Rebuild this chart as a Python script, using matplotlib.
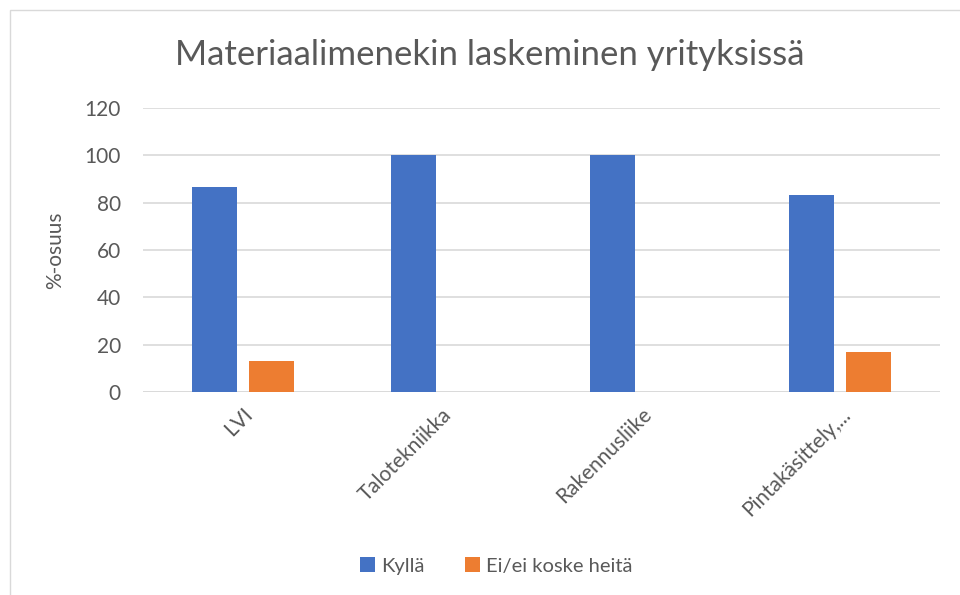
import numpy as np
import matplotlib.pyplot as plt
from matplotlib.patches import Rectangle

categories = ["LVI", "Talotekniikka", "Rakennusliike", "Pintakäsittely,..."]
kylla = [86.7, 100, 100, 83.3]
ei_koske = [13.3, 0, 0, 16.7]
series_names = ["Kyllä", "Ei/ei koske heitä"]
yticks = [0, 20, 40, 60, 80, 100, 120]

BLUE = "#4472C4"
ORANGE = "#ED7D31"
TEXT = "#595959"
GRID = "#D9D9D9"

plt.rcParams['font.family'] = ['Lato', 'DejaVu Sans']

fig = plt.figure(figsize=(9.6, 5.95), dpi=100)
ax = fig.add_axes([143 / 960, 1 - 392 / 595, (940 - 143) / 960, (392 - 108) / 595])

# outer chart frame (partially visible like the source)
fig.patches.append(Rectangle((10 / 960, -0.01), 1.5, 1 - 10 / 595 + 0.01,
                             transform=fig.transFigure, fill=False,
                             edgecolor=GRID, linewidth=1))

x = np.arange(len(categories))
w = 0.226
gap = 0.06
ax.bar(x - (w + gap) / 2, kylla, w, color=BLUE, label=series_names[0], zorder=3)
ax.bar(x + (w + gap) / 2, ei_koske, w, color=ORANGE, label=series_names[1], zorder=3)

ax.set_xlim(-0.5, len(categories) - 0.5)
ax.set_ylim(0, 120)
ax.set_yticks(yticks)
ax.set_yticklabels([str(v) for v in yticks], fontsize=15, color=TEXT)
ax.set_xticks(x)
ax.set_xticklabels(categories, rotation=45, ha="right", rotation_mode="anchor",
                   fontsize=15, color=TEXT)
ax.tick_params(axis="x", length=0, pad=9)
ax.tick_params(axis="y", length=0, pad=16)
ax.yaxis.grid(True, color=GRID, linewidth=1.2, zorder=0)
for s in ax.spines.values():
    s.set_visible(False)
ax.axhline(0, color=GRID, linewidth=1.2, zorder=2)

ax.set_ylabel("%-osuus", fontsize=15, color=TEXT, labelpad=14)

fig.text(490 / 960, 1 - 55 / 595, "Materiaalimenekin laskeminen yrityksissä",
         ha="center", va="center", fontsize=25, color=TEXT)

fig.legend(loc="center", bbox_to_anchor=(496 / 960, 1 - 566 / 595), ncol=2,
           frameon=False, fontsize=14.5, handlelength=0.75, handleheight=0.75,
           columnspacing=2.0, handletextpad=0.3, labelcolor=TEXT)

fig.savefig("out.png", dpi=100)
